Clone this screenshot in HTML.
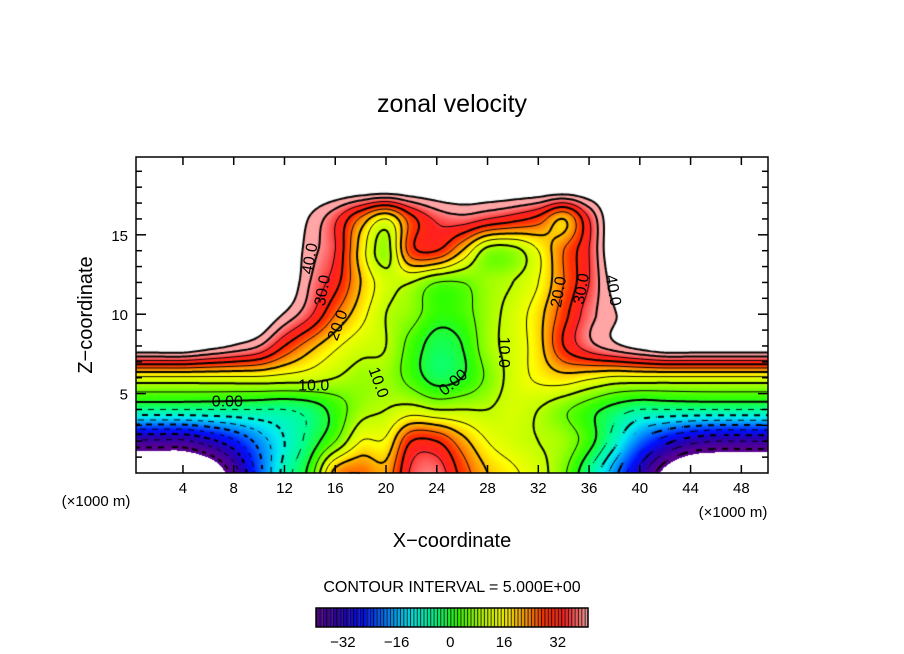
<!DOCTYPE html>
<html><head><meta charset="utf-8"><style>
body{margin:0;background:#fff;}
#wrap{position:relative;width:904px;height:654px;overflow:hidden;background:#fff;font-family:"Liberation Sans",sans-serif;}
canvas{position:absolute;left:0;top:0;}
svg{position:absolute;left:0;top:0;}
</style></head><body>
<div id="wrap">
<canvas id="cv" width="904" height="654"></canvas>
<svg id="ov" width="904" height="654"></svg>
</div>
<script>
// ---- data ----
const xGrid=[0,2,4,6,8,10,12,14,16,18,20,22,24,26,28,30,32,34,36,38,40,42,44,46,48,50];
const zGrid=[0,2,4,6,8,10,12,14,16,18,20];
const row_z0 =[-50,-50,-50,-48,-38,-22,-8,2,22,25,22,36,38,28,20,16,12,6,-5,-18,-32,-44,-50,-50,-50,-50];
const row_z2 =[-36,-36,-36,-32,-26,-18,-10,-3,5,15,16,30,30,22,15,12,10,8,2,-8,-20,-28,-33,-35,-35,-35];
const row_z4 =[-5,-5,-5,-5,-5,-5,-5,-3,2,8,10,12,10,10,10,12,10,6,2,-2,-5,-5,-5,-5,-5,-5];
const row_z6 =[14,14,14,14,14,14,13,12,10,8,8,3,-2,0,6,12,16,18,16,14,14,14,14,14,14,14];
const row_z8 =[50,50,50,47,44,40,30,22,16,12,10,3,-2,0,8,12,18,30,38,43,47,50,50,50,50,50];
const row_z10=[50,50,50,50,50,50,44,36,25,17,10,7,2,3,8,12,18,28,38,44,50,50,50,50,50,50];
const row_z12=[50,50,50,50,50,50,50,40,32,20,12,10,5,5,8,10,15,25,35,47,50,50,50,50,50,50];
const row_z14=[50,50,50,50,50,50,50,42,35,18,8,28,30,20,8,8,15,25,35,50,50,50,50,50,50,50];
const row_z16=[50,50,50,50,50,50,50,44,36,24,15,28,36,38,35,32,28,20,35,50,50,50,50,50,50,50];
const row_z18=[50,50,50,50,50,50,50,50,50,50,50,50,50,50,50,50,50,50,50,50,50,50,50,50,50,50];
const row_z20=[50,50,50,50,50,50,50,50,50,50,50,50,50,50,50,50,50,50,50,50,50,50,50,50,50,50];
const field=[row_z0,row_z2,row_z4,row_z6,row_z8,row_z10,row_z12,row_z14,row_z16,row_z18,row_z20];
const xTicks=[4,8,12,16,20,24,28,32,36,40,44,48];
const zTicks=[5,10,15];
const cbTicks=[-32,-16,0,16,32];
const levels=[-40,-35,-30,-25,-20,-15,-10,-5,0,5,10,15,20,25,30,35,40];
const labels=[["40.0",14.0,13.5,-80],["30.0",15.0,11.5,-80],["20.0",16.2,9.3,-70],["10.0",14.3,5.5,0],["0.00",7.5,4.5,0],
 ["10.0",19.4,5.7,70],["0.00",25.3,5.7,-40],["10.0",29.3,7.6,90],["20.0",33.6,11.4,-80],["30.0",35.4,11.6,-80],["40.0",37.9,11.5,80]];

// ---- geometry ----
const PL=136,PR=768,PT=157,PB=473;
const XMIN=0.3,XMAX=50.1,ZMIN=0,ZMAX=19.9;
const sx=x=>PL+(x-XMIN)/(XMAX-XMIN)*(PR-PL);
const sz=z=>PB-(z-ZMIN)/(ZMAX-ZMIN)*(PB-PT);
const ix=px=>XMIN+(px-PL)/(PR-PL)*(XMAX-XMIN);
const iz=py=>ZMIN+(PB-py)/(PB-PT)*(ZMAX-ZMIN);

function cr(p0,p1,p2,p3,t){return 0.5*((2*p1)+(-p0+p2)*t+(2*p0-5*p1+4*p2-p3)*t*t+(-p0+3*p1-3*p2+p3)*t*t*t);}
function g(i,j){i=Math.max(0,Math.min(zGrid.length-1,i));j=Math.max(0,Math.min(xGrid.length-1,j));return field[i][j];}
function val(x,z){
  let fx=(x-xGrid[0])/2, fz=(z-zGrid[0])/2;
  let j=Math.floor(fx), i=Math.floor(fz); let tx=fx-j, tz=fz-i;
  const r=[];
  for(let k=-1;k<=2;k++) r.push(cr(g(i+k,j-1),g(i+k,j),g(i+k,j+1),g(i+k,j+2),tx));
  return cr(r[0],r[1],r[2],r[3],tz);
}
const stops=[[-40,[90,0,144]],[-33,[40,0,176]],[-26,[0,16,255]],[-18,[0,144,255]],[-12,[0,235,240]],[-5,[0,255,144]],[2,[48,255,0]],[10,[192,255,0]],[16,[255,255,0]],[22,[255,160,0]],[28,[255,48,0]],[34,[255,32,32]],[41,[255,165,165]]];
function color(v){
  if(v<=stops[0][0]) return stops[0][1];
  for(let k=1;k<stops.length;k++){ if(v<=stops[k][0]){const a=stops[k-1],b=stops[k];const t=(v-a[0])/(b[0]-a[0]);return [0,1,2].map(c=>Math.round(a[1][c]+(b[1][c]-a[1][c])*t));}}
  return stops[stops.length-1][1];
}
const HI=44.5, LO=-42;
const cv=document.getElementById('cv'); const ctx=cv.getContext('2d');
const img=ctx.createImageData(PR-PL,PB-PT);
for(let py=PT;py<PB;py++)for(let px=PL;px<PR;px++){
  const v=val(ix(px+0.5),iz(py+0.5)); let c;
  if(v>HI||v<LO) c=[255,255,255]; else c=color(v);
  const o=((py-PT)*(PR-PL)+(px-PL))*4; img.data[o]=c[0];img.data[o+1]=c[1];img.data[o+2]=c[2];img.data[o+3]=255;
}
ctx.putImageData(img,PL,PT);
// contours via marching squares
const S=2; const nx=Math.floor((PR-PL)/S)+1, nz=Math.floor((PB-PT)/S)+1;
const G=[];for(let a=0;a<nz;a++){G.push([]);for(let b=0;b<nx;b++)G[a].push(val(ix(PL+b*S),iz(PT+a*S)));}
function contour(L,width,dashed){
  ctx.strokeStyle='#000';ctx.lineWidth=width;ctx.beginPath();
  for(let a=0;a<nz-1;a++)for(let b=0;b<nx-1;b++){
    const v=[G[a][b],G[a][b+1],G[a+1][b+1],G[a+1][b]];
    const p=[[b,a],[b+1,a],[b+1,a+1],[b,a+1]];
    const pts=[];
    for(let e=0;e<4;e++){const v1=v[e],v2=v[(e+1)%4];if((v1<L)!==(v2<L)){const t=(L-v1)/(v2-v1);const P1=p[e],P2=p[(e+1)%4];pts.push([PL+(P1[0]+(P2[0]-P1[0])*t)*S,PT+(P1[1]+(P2[1]-P1[1])*t)*S]);}}
    if(dashed && Math.floor((a+b)/3)%2===1) continue;
    for(let k=0;k+1<pts.length;k+=2){ctx.moveTo(pts[k][0],pts[k][1]);ctx.lineTo(pts[k+1][0],pts[k+1][1]);}
  }
  ctx.stroke();
}
levels.forEach(L=>{const major=(L%10===0);contour(L,major?2:1,L<0);});
contour(HI,2,false);
// colorbar
const CBL=316,CBR=588,CBT=608,CBB=627,CBMIN=-40,CBMAX=41;
const cbVals=[];for(let v=CBMIN;v<CBMAX;v++)cbVals.push(v);
const bw=(CBR-CBL)/cbVals.length;
cbVals.forEach((v,k)=>{const c=color(v+0.5);ctx.fillStyle=`rgb(${c[0]},${c[1]},${c[2]})`;ctx.fillRect(CBL+k*bw,CBT,bw,CBB-CBT);ctx.fillStyle='#000';ctx.fillRect(CBL+k*bw,CBT,1,CBB-CBT);});

// ---- SVG overlay ----
const NS='http://www.w3.org/2000/svg'; const ov=document.getElementById('ov');
function el(t,a,txt){const e=document.createElementNS(NS,t);for(const k in a)e.setAttribute(k,a[k]);if(txt!==undefined)e.textContent=txt;ov.appendChild(e);return e;}
let e;
e=el('rect',{x:PL,y:PT,width:PR-PL,height:PB-PT,fill:'none',stroke:'#000','stroke-width':1.5});


xTicks.forEach(t=>{
  e=el('line',{x1:sx(t),x2:sx(t),y1:PB,y2:PB-8,stroke:'#000','stroke-width':1.5});
  
  
  e=el('line',{x1:sx(t),x2:sx(t),y1:PT,y2:PT+8,stroke:'#000','stroke-width':1.5});
  
  
  e=el('text',{x:sx(t),y:PB+20,'text-anchor':'middle','font-size':15},String(t));
  
  
});
for(let z=1;z<20;z++){
  const len=(z%5===0)?10:6;
  e=el('line',{x1:PL,x2:PL+len,y1:sz(z),y2:sz(z),stroke:'#000','stroke-width':1.5});
  
  
  e=el('line',{x1:PR,x2:PR-len,y1:sz(z),y2:sz(z),stroke:'#000','stroke-width':1.5});
  
  
}
zTicks.forEach(t=>{
  e=el('text',{x:PL-8,y:sz(t)+6,'text-anchor':'end','font-size':15},String(t));
  
  
});
labels.forEach(l=>{
  const x=sx(l[1]),y=sz(l[2]);
  e=el('text',{x:x,y:y+5,'text-anchor':'middle','font-size':16,transform:`rotate(${l[3]} ${x} ${y})`},l[0]);
  
  
});
e=el('rect',{x:CBL,y:CBT,width:CBR-CBL,height:CBB-CBT,fill:'none',stroke:'#000','stroke-width':1.5});


cbTicks.forEach(t=>{
  const x=CBL+(t-CBMIN)/(CBMAX-CBMIN)*(CBR-CBL);
  e=el('text',{x:x,y:647,'text-anchor':'middle','font-size':15},t<0?'\u2212'+(-t):String(t));
  
  
});
e=el('text',{x:452,y:112,'text-anchor':'middle','font-size':25},'zonal velocity');


e=el('text',{x:452,y:547,'text-anchor':'middle','font-size':20},'X\u2212coordinate');


e=el('text',{x:92,y:315,'text-anchor':'middle','font-size':20,transform:'rotate(-90 92 315)'},'Z\u2212coordinate');


e=el('text',{x:96,y:506,'text-anchor':'middle','font-size':15},'(\u00d71000 m)');


e=el('text',{x:733,y:517,'text-anchor':'middle','font-size':15},'(\u00d71000 m)');


e=el('text',{x:452,y:592,'text-anchor':'middle','font-size':16},'CONTOUR INTERVAL = 5.000E+00');


</script>
</body></html>
